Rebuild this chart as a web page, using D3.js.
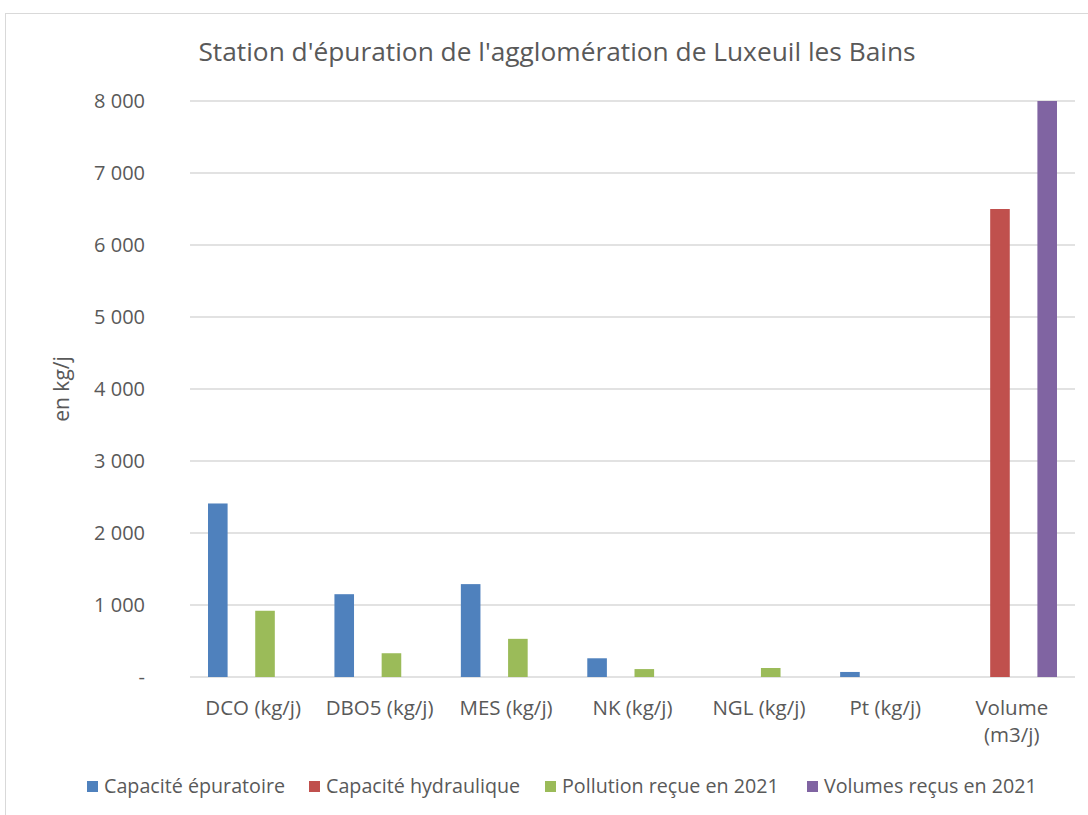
<!DOCTYPE html>
<html>
<head>
<meta charset="utf-8">
<script src="https://cdn.jsdelivr.net/npm/d3@7"></script>
<style>
  body { margin: 0; background: #fff; }
  text { font-family: "Open Sans", "Noto Sans", sans-serif; fill: #595959; }
</style>
</head>
<body>
<svg id="chart" width="1088" height="815"></svg>
<script>
var categories = ["DCO (kg/j)", "DBO5 (kg/j)", "MES (kg/j)", "NK (kg/j)", "NGL (kg/j)", "Pt (kg/j)", "Volume (m3/j)"];
var seriesNames = ["Capacité épuratoire", "Capacité hydraulique", "Pollution reçue en 2021", "Volumes reçus en 2021"];
var seriesColors = ["#4f81bd", "#c0504d", "#9bbb59", "#8064a2"];
// valeurs (null = pas de barre)
var capaciteEpuratoire = [2410, 1150, 1290, 260, null, 70, null];
var capaciteHydraulique = [null, null, null, null, null, null, 6500];
var pollutionRecue = [920, 330, 530, 110, 125, null, null];
var volumesRecus = [null, null, null, null, null, null, 8000];
var yTicks = [0, 1000, 2000, 3000, 4000, 5000, 6000, 7000, 8000];

var allSeries = [capaciteEpuratoire, capaciteHydraulique, pollutionRecue, volumesRecus];

var svg = d3.select("#chart");

// cadre du graphique
svg.append("rect")
  .attr("x", 5.5).attr("y", 13.5)
  .attr("width", 1100).attr("height", 830)
  .attr("fill", "none").attr("stroke", "#d9d9d9");

var plotLeft = 190, plotRight = 1075, plotTop = 101, plotBottom = 677;

var x = d3.scaleBand().domain(categories).range([plotLeft, plotRight]);
var xInner = d3.scaleBand().domain(d3.range(4))
  .range([18, x.bandwidth() - 18]).paddingInner(0.17);
var y = d3.scaleLinear().domain([0, 8000]).range([plotBottom, plotTop]);

// grille
svg.append("g").selectAll("line")
  .data(yTicks)
  .enter().append("line")
  .attr("x1", plotLeft).attr("x2", plotRight)
  .attr("y1", function(d) { return y(d); })
  .attr("y2", function(d) { return y(d); })
  .attr("stroke", "#d9d9d9").attr("stroke-width", 1.5);

// labels axe y
var fmt = function(d) { return d === 0 ? "-" : d3.format(",")(d).replace(",", " "); };
svg.append("g").selectAll("text")
  .data(yTicks)
  .enter().append("text")
  .attr("x", 145)
  .attr("y", function(d) { return y(d); })
  .attr("dy", "0.35em")
  .attr("text-anchor", "end")
  .style("font-size", "20px")
  .text(fmt);

// barres
allSeries.forEach(function(values, s) {
  svg.append("g").selectAll("rect")
    .data(values.map(function(v, i) { return { cat: categories[i], v: v }; })
      .filter(function(d) { return d.v != null; }))
    .enter().append("rect")
    .attr("x", function(d) { return x(d.cat) + xInner(s); })
    .attr("width", xInner.bandwidth())
    .attr("y", function(d) { return y(d.v); })
    .attr("height", function(d) { return y(0) - y(d.v); })
    .attr("fill", seriesColors[s]);
});

// labels axe x
categories.forEach(function(c) {
  var cx = x(c) + x.bandwidth() / 2;
  var t = svg.append("text")
    .attr("x", cx)
    .attr("y", 715)
    .attr("text-anchor", "middle")
    .style("font-size", "20.5px");
  if (c.indexOf("Volume") === 0) {
    t.append("tspan").attr("x", cx).text("Volume");
    t.append("tspan").attr("x", cx).attr("dy", 27).text("(m3/j)");
  } else {
    t.text(c);
  }
});

// titre
svg.append("text")
  .attr("x", 557).attr("y", 61)
  .attr("text-anchor", "middle")
  .style("font-size", "26.3px")
  .text("Station d'épuration de l'agglomération de Luxeuil les Bains");

// titre axe y
svg.append("text")
  .attr("transform", "translate(69,389) rotate(-90)")
  .attr("text-anchor", "middle")
  .style("font-size", "21px")
  .text("en kg/j");

// légende
var legendX = [87, 309, 545, 807];
seriesNames.forEach(function(n, i) {
  svg.append("rect")
    .attr("x", legendX[i]).attr("y", 781)
    .attr("width", 11).attr("height", 11)
    .attr("fill", seriesColors[i]);
  svg.append("text")
    .attr("x", legendX[i] + 17).attr("y", 793)
    .style("font-size", "19.7px")
    .text(n);
});
</script>
</body>
</html>
